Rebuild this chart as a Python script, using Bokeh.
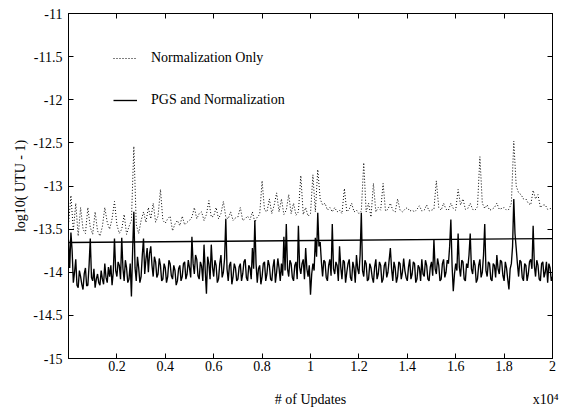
from bokeh.plotting import figure
from bokeh.models import (Range1d, FixedTicker, LinearAxis, Legend, LegendItem)
from bokeh.embed import file_html
from bokeh.resources import INLINE

# ---------------- data ----------------
updates_dotted = list(range(0, 20001, 100))
updates_solid = list(range(0, 20001, 50))

norm_only = [
    -13.45, -13.11, -13.52, -13.20, -13.58, -13.25, -13.50, -13.55, -13.25, -13.48,
    -13.56, -13.30, -13.52, -13.58, -13.47, -13.25, -13.42, -13.50, -13.38, -13.18,
    -13.45, -13.55, -13.50, -13.33, -13.56, -13.47, -13.40, -12.54, -13.45, -13.55,
    -13.40, -13.30, -13.42, -13.25, -13.38, -13.20, -13.42, -13.35, -13.04, -13.40,
    -13.43, -13.38, -13.35, -13.52, -13.44, -13.40, -13.46, -13.35, -13.45, -13.42,
    -13.40, -13.36, -13.25, -13.38, -13.32, -13.30, -13.40, -13.33, -13.17, -13.36,
    -13.35, -13.25, -13.38, -13.32, -13.18, -13.36, -13.38, -13.30, -13.40, -13.37,
    -13.36, -13.25, -13.40, -13.38, -13.35, -13.39, -13.30, -13.42, -13.36, -13.33,
    -12.94, -13.28, -13.30, -13.15, -13.32, -13.22, -13.08, -13.30, -13.15, -13.33,
    -13.28, -13.10, -13.32, -13.20, -13.34, -13.30, -12.88, -13.33, -13.25, -13.35,
    -13.32, -12.87, -13.30, -12.81, -13.15, -13.22, -13.20, -13.28, -13.25, -13.30,
    -13.25, -13.30, -13.28, -13.32, -13.03, -13.30, -13.27, -13.20, -13.30, -13.28,
    -13.32, -13.29, -12.73, -13.30, -13.20, -13.36, -12.97, -13.30, -13.25, -13.28,
    -12.97, -13.29, -13.27, -13.20, -13.28, -13.30, -13.15, -13.28, -13.30, -13.27,
    -13.25, -13.29, -13.28, -13.30, -13.27, -13.23, -13.29, -13.28, -13.22, -13.29,
    -13.28, -13.27, -12.94, -13.25, -13.28, -13.20, -13.27, -13.28, -13.20, -13.26,
    -13.28, -13.04, -13.22, -13.15, -13.27, -13.26, -13.20, -13.27, -13.28, -13.24,
    -12.66, -13.20, -13.26, -13.22, -13.28, -13.27, -13.25, -13.20, -13.27, -13.26,
    -13.25, -13.28, -13.27, -13.20, -12.48, -13.00, -13.08, -13.10, -13.15, -13.15,
    -13.20, -13.22, -13.05, -13.15, -13.10, -13.25, -13.22, -13.22, -13.27, -13.26,
    -13.27,
]

pgs_norm = [
    -13.62, -13.95, -13.54, -13.75, -14.12, -14.00, -13.85, -14.15, -14.18, -13.98,
    -14.05, -14.14, -14.20, -14.02, -13.95, -14.16, -14.15, -13.92, -13.61, -14.06,
    -14.10, -13.96, -14.18, -14.08, -14.02, -14.12, -14.15, -13.98, -14.08, -14.14,
    -13.90, -14.06, -14.12, -13.94, -14.05, -13.92, -14.15, -14.00, -13.61, -13.98,
    -14.05, -13.88, -13.92, -14.08, -13.60, -13.96, -14.10, -13.86, -13.95, -14.12,
    -14.08, -13.90, -14.28, -13.75, -13.30, -13.95, -14.10, -13.82, -13.95, -14.12,
    -14.05, -13.80, -13.61, -14.02, -13.85, -13.72, -14.00, -13.78, -13.70, -13.92,
    -14.05, -13.82, -13.88, -14.06, -14.02, -13.84, -13.92, -14.10, -14.08, -13.90,
    -13.95, -14.12, -14.05, -13.86, -13.90, -14.04, -14.08, -13.92, -13.98, -14.15,
    -14.10, -13.96, -13.92, -14.10, -14.05, -13.90, -13.88, -14.08, -14.02, -13.86,
    -13.95, -14.06, -13.59, -13.90, -14.02, -13.80, -13.85, -14.04, -14.08, -13.88,
    -13.93, -14.10, -13.68, -13.98, -14.25, -13.82, -13.90, -14.08, -13.68, -13.94,
    -14.05, -13.86, -13.92, -14.12, -14.08, -13.90, -13.80, -14.06, -14.00, -13.84,
    -13.38, -13.96, -14.10, -13.92, -13.88, -14.14, -14.05, -13.90, -13.95, -14.10,
    -14.08, -13.94, -13.90, -14.10, -14.02, -13.88, -13.85, -14.06, -14.10, -13.92,
    -13.95, -14.08, -13.72, -13.96, -13.40, -13.90, -14.12, -13.96, -13.92, -14.14,
    -14.05, -13.90, -13.88, -14.10, -14.02, -13.86, -13.92, -14.08, -14.10, -13.94,
    -13.85, -14.12, -14.00, -13.84, -13.95, -14.10, -13.90, -14.04, -13.59, -13.98,
    -13.44, -13.96, -14.05, -13.86, -13.90, -14.06, -14.10, -13.92, -13.88, -14.08,
    -13.46, -13.94, -14.02, -13.90, -13.85, -14.08, -13.72, -13.96, -14.05, -13.92,
    -14.26, -14.02, -13.90, -13.98, -13.60, -13.82, -13.31, -13.70, -13.65, -13.88,
    -14.05, -13.86, -13.88, -14.06, -14.10, -13.92, -13.85, -14.04, -13.44, -13.96,
    -14.02, -13.88, -13.92, -14.10, -13.70, -13.94, -14.08, -13.86, -13.88, -14.12,
    -14.00, -13.90, -13.85, -14.06, -14.10, -13.88, -13.95, -14.12, -13.80, -13.96,
    -14.02, -13.80, -13.31, -13.98, -14.05, -13.86, -13.90, -14.10, -14.08, -13.90,
    -13.95, -14.06, -14.12, -13.94, -13.85, -14.08, -14.02, -13.88, -13.92, -14.12,
    -14.08, -13.92, -13.88, -14.06, -14.00, -13.86, -13.72, -13.96, -14.10, -13.88,
    -13.95, -14.12, -14.05, -13.88, -13.90, -14.08, -14.00, -13.84, -13.98, -14.06,
    -14.10, -13.94, -13.85, -14.08, -14.02, -13.88, -13.90, -14.12, -14.08, -13.92,
    -13.95, -14.10, -13.85, -14.02, -14.05, -13.86, -13.92, -14.08, -14.10, -13.94,
    -13.88, -14.04, -13.62, -13.96, -14.02, -13.84, -13.92, -14.10, -14.08, -13.90,
    -13.85, -14.06, -14.00, -13.86, -13.90, -13.70, -13.39, -13.92, -14.22, -14.02,
    -13.90, -13.98, -13.55, -13.94, -14.05, -13.86, -13.88, -14.08, -14.10, -13.90,
    -13.95, -13.80, -13.55, -13.96, -14.02, -13.86, -13.92, -14.12, -14.08, -13.92,
    -13.85, -14.06, -14.00, -13.80, -13.44, -13.98, -14.05, -13.88, -13.90, -14.08,
    -14.10, -13.90, -13.92, -14.06, -13.80, -13.96, -14.02, -13.86, -13.88, -14.04,
    -14.10, -13.88, -13.95, -14.08, -14.20, -13.96, -13.90, -13.70, -13.15, -13.55,
    -13.72, -13.90, -14.05, -13.86, -13.88, -14.06, -14.10, -13.90, -13.92, -14.10,
    -14.02, -13.88, -13.85, -13.96, -13.46, -13.92, -14.05, -13.86, -13.92, -14.08,
    -14.10, -13.90, -13.88, -14.06, -14.00, -13.88, -14.12, -13.90, -13.95, -14.10,
    -14.05,
]

ref_x = [0, 20000]
ref_y = [-13.655, -13.61]

x_ticks = [2000, 4000, 6000, 8000, 10000, 12000, 14000, 16000, 18000, 20000]
x_tick_labels = ["0.2", "0.4", "0.6", "0.8", "1", "1.2", "1.4", "1.6", "1.8", "2"]
y_ticks = [-15, -14.5, -14, -13.5, -13, -12.5, -12, -11.5, -11]
y_tick_labels = ["-15", "-14.5", "-14", "-13.5", "-13", "-12.5", "-12", "-11.5", "-11"]

x_title = "# of Updates"
x_scale_note = "x10\u2074"
y_title = "log10( UTU - 1)"
legend_labels = ["Normalization Only", "PGS and Normalization"]

# ---------------- figure ----------------
FONT = "Liberation Serif"

p = figure(width=561, height=409, output_backend="svg", toolbar_location=None,
           x_range=Range1d(0, 20000), y_range=Range1d(-15, -11),
           min_border_left=68, min_border_right=9, min_border_top=13, min_border_bottom=49)
p.background_fill_color = "white"
p.border_fill_color = "white"
p.outline_line_color = "black"
p.outline_line_width = 1
p.grid.visible = False

r_dot = p.line(updates_dotted, norm_only, line_color="black", line_width=1, line_dash="1 2")
r_sol = p.line(updates_solid, pgs_norm, line_color="black", line_width=1.35)
p.line(ref_x, ref_y, line_color="black", line_width=1.3)

def style_axis(ax):
    ax.axis_line_color = "black"
    ax.major_tick_line_color = "black"
    ax.major_tick_in = 5
    ax.major_tick_out = 0
    ax.minor_tick_line_color = None
    ax.major_label_text_font = FONT
    ax.major_label_text_color = "black"
    ax.major_label_text_font_size = "14px"
    ax.axis_label_text_font = FONT
    ax.axis_label_text_font_style = "normal"
    ax.axis_label_text_font_size = "14px"
    ax.axis_label_text_color = "black"

xa = p.xaxis[0]
xa.ticker = FixedTicker(ticks=x_ticks)
xa.major_label_overrides = {t: l for t, l in zip(x_ticks, x_tick_labels)}
style_axis(xa)
xa.major_label_standoff = 2

# second row below the tick labels: x title (centred) and the x10^4 scale note
title_pos = [10000, 19720]
xt = LinearAxis(ticker=FixedTicker(ticks=title_pos),
                major_label_overrides={title_pos[0]: x_title, title_pos[1]: x_scale_note})
style_axis(xt)
xt.axis_line_color = None
xt.major_tick_line_color = None
xt.major_label_standoff = 18
p.add_layout(xt, "below")

ya = p.yaxis[0]
ya.ticker = FixedTicker(ticks=y_ticks)
ya.major_label_overrides = {t: l for t, l in zip(y_ticks, y_tick_labels)}
style_axis(ya)
ya.major_label_standoff = 6
ya.axis_label = y_title
ya.axis_label_standoff = 2

# box ticks on top and right, without labels
top = LinearAxis(ticker=FixedTicker(ticks=x_ticks))
style_axis(top)
top.major_label_text_font_size = "0px"
top.major_label_standoff = 0
top.major_label_overrides = {t: "" for t in x_ticks}
p.add_layout(top, "above")
right = LinearAxis(ticker=FixedTicker(ticks=y_ticks))
style_axis(right)
right.major_label_text_font_size = "0px"
right.major_label_standoff = 0
right.major_label_overrides = {t: "" for t in y_ticks}
p.add_layout(right, "right")

legend = Legend(items=[LegendItem(label=legend_labels[0], renderers=[r_dot]),
                       LegendItem(label=legend_labels[1], renderers=[r_sol])],
                location=(45, 248))
legend.background_fill_alpha = 0
legend.border_line_alpha = 0
legend.padding = 0
legend.margin = 0
legend.spacing = 22
legend.glyph_width = 24
legend.glyph_height = 20
legend.label_height = 20
legend.label_standoff = 14
legend.label_text_font = FONT
legend.label_text_font_size = "14px"
legend.label_text_color = "black"
p.add_layout(legend, "center")

open("out.html", "w").write(file_html(p, INLINE))
